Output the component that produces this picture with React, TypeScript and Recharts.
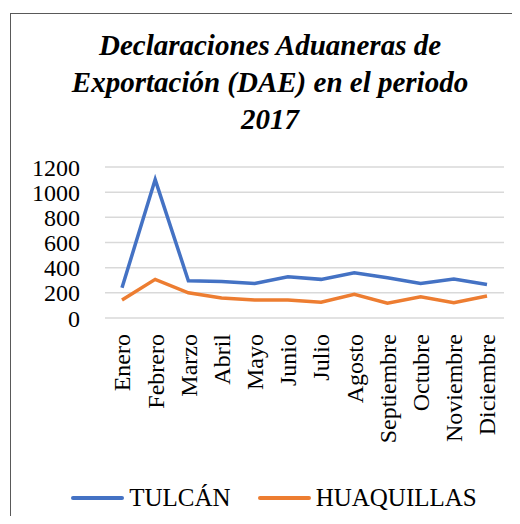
import { LineChart, Line, XAxis, YAxis, CartesianGrid, Legend } from 'recharts';

const MONTHS = ['Enero', 'Febrero', 'Marzo', 'Abril', 'Mayo', 'Junio', 'Julio', 'Agosto', 'Septiembre', 'Octubre', 'Noviembre', 'Diciembre'];
const TULCAN = [240, 1100, 296, 290, 275, 328, 307, 360, 320, 275, 310, 267];
const HUAQUILLAS = [143, 307, 200, 159, 143, 143, 125, 188, 117, 169, 122, 175];
const Y_TICKS = [0, 200, 400, 600, 800, 1000, 1200];

const SERIES = [
  { key: 'tulcan', name: 'TULCÁN', color: '#4472C4' },
  { key: 'huaquillas', name: 'HUAQUILLAS', color: '#ED7D31' },
];

const data = MONTHS.map((m, i) => ({ month: m, tulcan: TULCAN[i], huaquillas: HUAQUILLAS[i] }));

const FONT = '"Liberation Serif", "Times New Roman", serif';

function MonthTick({ x, y, payload }: any) {
  return (
    <g transform={`translate(${x},${y})`}>
      <text transform="rotate(-90)" x={-8} dy="0.35em" textAnchor="end"
        fill="#000" fontSize={24} fontFamily={FONT}>
        {payload.value}
      </text>
    </g>
  );
}

function LegendBox() {
  return (
    <div style={{ height: 40, display: 'flex', alignItems: 'center', justifyContent: 'center', gap: 27, fontFamily: FONT, fontSize: 25 }}>
      {SERIES.map(s => (
        <div key={s.key} style={{ display: 'flex', alignItems: 'center', gap: 5 }}>
          <div style={{ width: 53, height: 3.5, background: s.color, borderRadius: 2 }} />
          <span style={{ color: '#000' }}>{s.name}</span>
        </div>
      ))}
    </div>
  );
}

export default function App() {
  return (
    <div style={{ position: 'relative', width: 520, height: 524, margin: -8, overflow: 'hidden', background: '#fff' }}>
      {/* marco del gráfico, cortado por la derecha y abajo */}
      <div style={{ position: 'absolute', left: 10, top: 13, width: 540, height: 540, border: '1.5px solid #595959' }} />
      <div style={{
        position: 'absolute', left: 10, top: 27, width: 520, textAlign: 'center',
        fontFamily: FONT, fontSize: 29, lineHeight: '37px', fontWeight: 'bold', fontStyle: 'italic', color: '#000',
      }}>
        Declaraciones Aduaneras de<br />Exportación (DAE) en el periodo<br />2017
      </div>
      <div style={{ position: 'absolute', left: 0, top: 0 }}>
        <LineChart width={520} height={524} data={data} margin={{ top: 167, right: 16, bottom: 0, left: 0 }}>
          <CartesianGrid vertical={false} stroke="#d9d9d9" strokeWidth={1.5} />
          <XAxis dataKey="month" interval={0} tick={<MonthTick />} axisLine={false} tickLine={false} height={166}
            padding={{ left: 17, right: 17 }} />
          <YAxis domain={[0, 1200]} ticks={Y_TICKS} interval={0} width={105} axisLine={false} tickLine={false} tickMargin={19}
            tick={{ fill: '#000', fontSize: 24, fontFamily: FONT }} />
          <Legend verticalAlign="bottom" content={<LegendBox />} wrapperStyle={{ top: 478, left: 0, width: 548, height: 40 }} />
          {SERIES.map(s => (
            <Line key={s.key} type="linear" dataKey={s.key} name={s.name} stroke={s.color} strokeWidth={3.5}
              dot={false} isAnimationActive={false} />
          ))}
        </LineChart>
      </div>
    </div>
  );
}
